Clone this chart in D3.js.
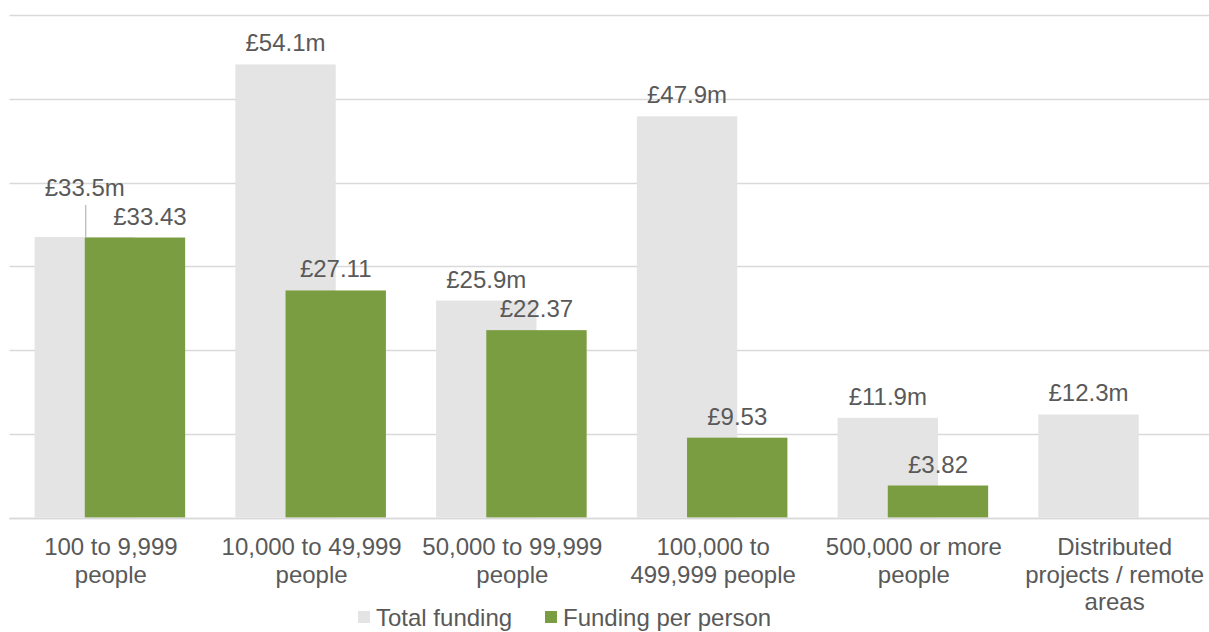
<!DOCTYPE html>
<html>
<head>
<meta charset="utf-8">
<script src="https://cdn.jsdelivr.net/npm/d3@7/dist/d3.min.js"></script>
<style>
  html, body { margin: 0; padding: 0; background: #fff; }
  svg { display: block; }
  text { font-family: "Liberation Sans", Arial, sans-serif; fill: #595959; }
</style>
</head>
<body>
<svg id="chart" width="1209" height="632"></svg>
<script>
// Settlement size bands (line breaks mark where the axis label wraps)
const categories = [
  "100 to 9,999\npeople",
  "10,000 to 49,999\npeople",
  "50,000 to 99,999\npeople",
  "100,000 to\n499,999 people",
  "500,000 or more\npeople",
  "Distributed\nprojects / remote\nareas"
];
// Total funding, £ millions
const totalFunding = [33.5, 54.1, 25.9, 47.9, 11.9, 12.3];
// Funding per person, £ (none for distributed projects)
const fundingPerPerson = [33.43, 27.11, 22.37, 9.53, 3.82, null];
// Value axis gridlines
const yTicks = [0, 10, 20, 30, 40, 50, 60];

const seriesNames = ["Total funding", "Funding per person"];
const colors = { total: "#e4e4e4", perPerson: "#7b9d41", grid: "#d9d9d9" };

const width = 1209, height = 632;
const svg = d3.select("#chart");

const x = d3.scaleBand().domain(categories).range([9.5, 1214]).paddingInner(0).paddingOuter(0);
const y = d3.scaleLinear().domain([0, 60]).range([517.5, 15]);
const step = x.bandwidth();
const barW = step * 0.5;

// Horizontal gridlines
svg.append("g").selectAll("line").data(yTicks).join("line")
  .attr("x1", x.range()[0]).attr("x2", width)
  .attr("y1", d => Math.round(y(d)) + 0.5).attr("y2", d => Math.round(y(d)) + 0.5)
  .attr("stroke", colors.grid).attr("stroke-width", 1.5);

const rows = categories.map((c, i) => ({ cat: c, i, total: totalFunding[i], pp: fundingPerPerson[i] }));

// Total funding bars
svg.append("g").selectAll("rect").data(rows).join("rect")
  .attr("x", d => x(d.cat) + step * 0.125)
  .attr("width", barW)
  .attr("y", d => y(d.total))
  .attr("height", d => y(0) - y(d.total))
  .attr("fill", colors.total);

// Funding per person bars
const ppRows = rows.filter(d => d.pp != null);
svg.append("g").selectAll("rect").data(ppRows).join("rect")
  .attr("x", d => x(d.cat) + step * 0.375)
  .attr("width", barW)
  .attr("y", d => y(d.pp))
  .attr("height", d => y(0) - y(d.pp))
  .attr("fill", colors.perPerson);

// Baseline
svg.append("line")
  .attr("x1", x.range()[0]).attr("x2", width)
  .attr("y1", Math.round(y(0)) + 0.5).attr("y2", Math.round(y(0)) + 0.5)
  .attr("stroke", colors.grid).attr("stroke-width", 1.5);

// Where the two labels of a group would collide, the total label is lifted with a leader line
const labelGap = 13;
function collides(d) { return d.pp != null && Math.abs(y(d.total) - y(d.pp)) < 20; }

const totalLabels = svg.append("g");
rows.forEach(d => {
  const cx = x(d.cat) + step * 0.125 + barW / 2;
  const top = y(d.total);
  const lift = collides(d) ? 28 : 0;
  if (lift) {
    totalLabels.append("line")
      .attr("x1", cx + 1).attr("x2", cx + 1)
      .attr("y1", top - lift - 4).attr("y2", top)
      .attr("stroke", "#a6a6a6").attr("stroke-width", 1);
  }
  totalLabels.append("text")
    .attr("x", cx).attr("y", top - labelGap - lift)
    .attr("text-anchor", "middle").attr("font-size", 24)
    .text("£" + d.total.toFixed(1) + "m");
});

const ppLabels = svg.append("g");
ppRows.forEach(d => {
  const cx = x(d.cat) + step * 0.375 + barW / 2;
  const shift = collides(d) ? 15 : 0;
  ppLabels.append("text")
    .attr("x", cx + shift).attr("y", y(d.pp) - labelGap)
    .attr("text-anchor", "middle").attr("font-size", 24)
    .text("£" + d.pp.toFixed(2));
});

// Category axis labels
const axisLabels = svg.append("g");
categories.forEach(c => {
  const t = axisLabels.append("text")
    .attr("x", x(c) + step / 2 + 1).attr("y", 555)
    .attr("text-anchor", "middle").attr("font-size", 24);
  c.split("\n").forEach((line, k) => {
    t.append("tspan").attr("x", x(c) + step / 2 + 1).attr("dy", k === 0 ? 0 : 27.5).text(line);
  });
});

// Legend
const legend = svg.append("g");
const legendItems = [
  { name: seriesNames[0], color: colors.total, x: 358 },
  { name: seriesNames[1], color: colors.perPerson, x: 545 }
];
legendItems.forEach(it => {
  legend.append("rect").attr("x", it.x).attr("y", 611).attr("width", 12).attr("height", 12).attr("fill", it.color);
  legend.append("text").attr("x", it.x + 18).attr("y", 626).attr("font-size", 24).text(it.name);
});
</script>
</body>
</html>
